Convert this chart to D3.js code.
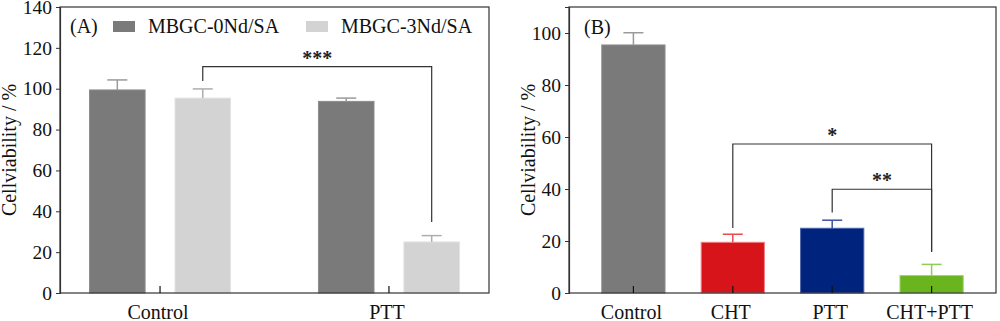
<!DOCTYPE html>
<html>
<head>
<meta charset="utf-8">
<script src="https://cdn.jsdelivr.net/npm/d3@7"></script>
<style>
  body { margin: 0; background: #fff; }
  svg, svg text { font-family: "Liberation Serif", "Times New Roman", serif; }
</style>
</head>
<body>
<script>
// data
var groupsA = ["Control", "PTT"];
var seriesA = ["MBGC-0Nd/SA", "MBGC-3Nd/SA"];
var meanA0 = [99.4, 93.8];
var errA0 = [4.9, 1.6];
var meanA1 = [95.4, 25.0];
var errA1 = [4.5, 3.1];
var ticksA = [0, 20, 40, 60, 80, 100, 120, 140];

var groupsB = ["Control", "CHT", "PTT", "CHT+PTT"];
var meanB = [95.4, 19.5, 24.9, 6.7];
var errB = [4.7, 3.1, 3.1, 4.3];
var ticksB = [0, 20, 40, 60, 80, 100];

// colours: fill, edge, error bar
var colorsA = ["#7a7a7a", "#d3d3d3"];
var edgeA = ["#8c8c8c", "#e2e2e2"];
var errColA = ["#9a9a9a", "#aeaeae"];
var colorsB = ["#7a7a7a", "#d7141a", "#00237e", "#6ab41e"];
var edgeB = ["#8c8c8c", "#ee7f83", "#4a63a8", "#9cd46a"];
var errColB = ["#9a9a9a", "#ea4a50", "#3a55a0", "#8fcb55"];

var serif = "'Liberation Serif', 'Times New Roman', serif";

var svg = d3.select("body").append("svg")
  .attr("width", 1000)
  .attr("height", 321)
  .attr("font-family", serif);

var axisColor = "#333";

// draws the frame, y axis and y label of one panel
function drawFrame(g, x0, x1, y, ticks, labelX) {
  g.append("rect")
    .attr("x", x0).attr("y", y.range()[1])
    .attr("width", x1 - x0).attr("height", y.range()[0] - y.range()[1])
    .attr("fill", "none").attr("stroke", axisColor).attr("stroke-width", 1.2);

  var ax = g.append("g")
    .attr("transform", `translate(${x0},0)`)
    .call(d3.axisLeft(y).tickValues(ticks).tickSize(4).tickPadding(4));
  ax.attr("font-family", serif);
  ax.select(".domain").attr("stroke", axisColor).attr("stroke-width", 1.2);
  ax.selectAll(".tick line").attr("stroke", axisColor);
  ax.selectAll("text").attr("font-size", 19.5).attr("fill", "#111");

  g.append("text")
    .attr("transform", `translate(${labelX},${(y.range()[0] + y.range()[1]) / 2}) rotate(-90)`)
    .attr("text-anchor", "middle")
    .attr("font-size", 20)
    .attr("fill", "#111")
    .text("Cellviability / %");
}

function drawCategories(g, x, groups, y0) {
  groups.forEach(function (c) {
    g.append("line")
      .attr("x1", x(c)).attr("x2", x(c))
      .attr("y1", y0).attr("y2", y0 - 7)
      .attr("stroke", "#111").attr("stroke-width", 1.2);
    g.append("text")
      .attr("x", x(c) - 2).attr("y", 319)
      .attr("text-anchor", "middle")
      .attr("font-size", 20).attr("fill", "#111")
      .text(c);
  });
}

function drawBar(g, cx, w, y, mean, err, color, edge, errColor) {
  g.append("rect")
    .attr("x", cx - w / 2).attr("y", y(mean))
    .attr("width", w).attr("height", y(0) - y(mean))
    .attr("fill", color)
    .attr("stroke", edge)
    .attr("stroke-width", 1);
  g.append("line")
    .attr("x1", cx).attr("x2", cx)
    .attr("y1", y(mean)).attr("y2", y(mean + err))
    .attr("stroke", errColor).attr("stroke-width", 1.5);
  g.append("line")
    .attr("x1", cx - 10).attr("x2", cx + 10)
    .attr("y1", y(mean + err)).attr("y2", y(mean + err))
    .attr("stroke", errColor).attr("stroke-width", 1.5);
}

function drawBracket(g, xa, xb, y, va, level, vb, label) {
  g.append("path")
    .attr("d", `M${xa},${y(va)}V${y(level)}H${xb}V${y(vb)}`)
    .attr("fill", "none").attr("stroke", "#333").attr("stroke-width", 1.2);
  g.append("text")
    .attr("x", (xa + xb) / 2).attr("y", y(level) - 2)
    .attr("text-anchor", "middle")
    .attr("font-size", 20).attr("font-weight", "bold").attr("fill", "#222")
    .text(label);
}

// ---------- panel A ----------
var gA = svg.append("g");
var yA = d3.scaleLinear().domain([0, 140]).range([293, 7]);
var xA = d3.scalePoint().domain(groupsA).range([60, 489]).padding(0.437);
var xSub = d3.scaleBand().domain(seriesA).range([-70.5, 70.5]).paddingInner(0.35);

groupsA.forEach(function (c, i) {
  drawBar(gA, xA(c) + xSub(seriesA[0]) + xSub.bandwidth() / 2, xSub.bandwidth(), yA,
    meanA0[i], errA0[i], colorsA[0], edgeA[0], errColA[0]);
  drawBar(gA, xA(c) + xSub(seriesA[1]) + xSub.bandwidth() / 2, xSub.bandwidth(), yA,
    meanA1[i], errA1[i], colorsA[1], edgeA[1], errColA[1]);
});

drawBracket(gA,
  xA("Control") + xSub(seriesA[1]) + xSub.bandwidth() / 2,
  xA("PTT") + xSub(seriesA[1]) + xSub.bandwidth() / 2,
  yA, 103.8, 110.8, 34.8, "***");

drawFrame(gA, 60, 489, yA, ticksA, 16);
drawCategories(gA, xA, groupsA, 293);

// legend A
gA.append("text").attr("x", 70).attr("y", 33).attr("font-size", 20).attr("fill", "#111").text("(A)");
var legX = [113, 306];
seriesA.forEach(function (s, i) {
  gA.append("rect")
    .attr("x", legX[i]).attr("y", 21)
    .attr("width", 22).attr("height", 11)
    .attr("fill", colorsA[i]);
  gA.append("text")
    .attr("x", legX[i] + 35).attr("y", 33)
    .attr("font-size", 20).attr("fill", "#111")
    .text(s);
});

// ---------- panel B ----------
var gB = svg.append("g");
var yB = d3.scaleLinear().domain([0, 110]).range([293, 7]);
var xB = d3.scaleBand().domain(groupsB).range([569, 996]).paddingInner(0.364).paddingOuter(0.33);

groupsB.forEach(function (c, i) {
  drawBar(gB, xB(c) + xB.bandwidth() / 2, xB.bandwidth(), yB, meanB[i], errB[i],
    colorsB[i], edgeB[i], errColB[i]);
});

var cB = function (c) { return xB(c) + xB.bandwidth() / 2; };
drawBracket(gB, cB("CHT"), cB("CHT+PTT"), yB, 25, 57.3, 15.9, "*");
drawBracket(gB, cB("PTT"), cB("CHT+PTT"), yB, 31, 39.9, 15.9, "**");

drawFrame(gB, 569, 996, yB, ticksB, 535);
drawCategories(gB, cB, groupsB, 293);

gB.append("text").attr("x", 584).attr("y", 34).attr("font-size", 20).attr("fill", "#111").text("(B)");
</script>
</body>
</html>
